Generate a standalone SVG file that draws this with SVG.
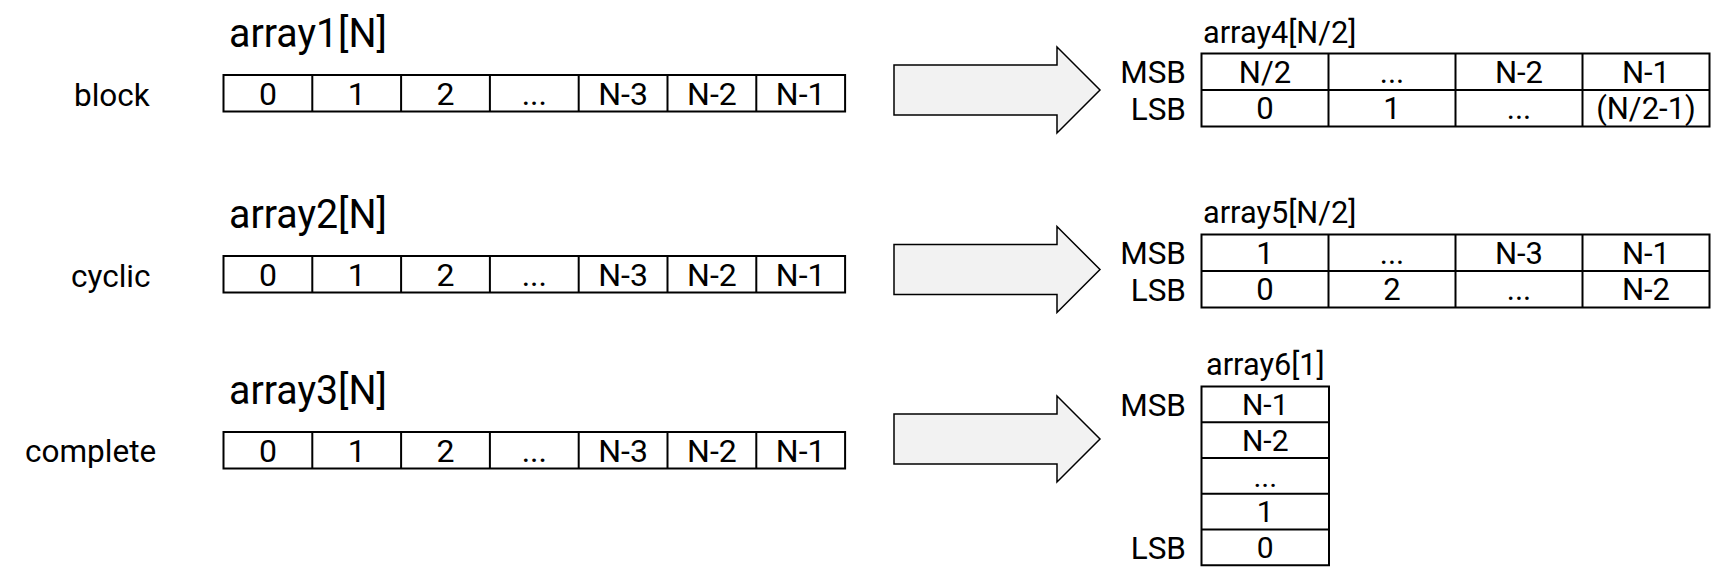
<svg xmlns="http://www.w3.org/2000/svg" width="1735" height="582" viewBox="0 0 1735 582">
<style>
text{font-family:Roboto,"Liberation Sans",sans-serif;fill:#000;transform-box:fill-box}
.t{font-size:41px;transform-origin:left;transform:scaleX(.96)}
.rt{font-size:32px;transform-origin:left;transform:scaleX(.96)}
.lab{font-size:31.5px}
.c{font-size:32px;text-anchor:middle}
.r{font-size:31px;text-anchor:middle}
.r6{font-size:30px;text-anchor:middle}
.m{font-size:31.5px;text-anchor:end}
.box{fill:#fff;stroke:#000;stroke-width:2}
.ln{stroke:#000;stroke-width:2;fill:none}
.arr{fill:#f2f2f2;stroke:#000;stroke-width:1.5}
</style>
<defs>
<g id="rowcells">
<rect class="box" x="0" y="0" width="621.6" height="36.5"/>
<path class="ln" d="M88.8 0V36.5M177.6 0V36.5M266.4 0V36.5M355.2 0V36.5M444 0V36.5M532.8 0V36.5"/>
<text class="c" x="44.4" y="29.6">0</text>
<text class="c" x="133.2" y="29.6">1</text>
<text class="c" x="222" y="29.6">2</text>
<text class="c" x="310.8" y="29.6">...</text>
<text class="c" x="399.6" y="29.6">N-3</text>
<text class="c" x="488.4" y="29.6">N-2</text>
<text class="c" x="577.2" y="29.6">N-1</text>
</g>
<path id="bigarrow" class="arr" d="M894 -25H1057V-43L1100 0L1057 43V25H894Z"/>
</defs>

<g id="label-block"><text class="lab" x="74" y="105.5">block</text></g>
<g id="label-cyclic"><text class="lab" x="71" y="286.5">cyclic</text></g>
<g id="label-complete"><text class="lab" x="25" y="461.5">complete</text></g>

<g id="array1">
<text class="t" x="229" y="47">array1[N]</text>
<use href="#rowcells" x="223.5" y="75"/>
</g>
<g id="array2">
<text class="t" x="229" y="228">array2[N]</text>
<use href="#rowcells" x="223.5" y="256"/>
</g>
<g id="array3">
<text class="t" x="229" y="404">array3[N]</text>
<use href="#rowcells" x="223.5" y="432"/>
</g>

<g id="connectors">
<use href="#bigarrow" x="0" y="90"/>
<use href="#bigarrow" x="0" y="269.5"/>
<use href="#bigarrow" x="0" y="439"/>
</g>

<g id="array4">
<text class="rt" x="1203" y="43">array4[N/2]</text>
<text class="m" x="1186" y="83">MSB</text>
<text class="m" x="1186" y="119.5">LSB</text>
<rect class="box" x="1201.5" y="53.5" width="508" height="73"/>
<path class="ln" d="M1201.5 90H1709.5M1328.5 53.5V126.5M1455.5 53.5V126.5M1582.5 53.5V126.5"/>
<text class="r" x="1265" y="82.8">N/2</text>
<text class="r" x="1392" y="82.8">...</text>
<text class="r" x="1519" y="82.8">N-2</text>
<text class="r" x="1646" y="82.8">N-1</text>
<text class="r" x="1265" y="119.3">0</text>
<text class="r" x="1392" y="119.3">1</text>
<text class="r" x="1519" y="119.3">...</text>
<text class="r" x="1646" y="119.3">(N/2-1)</text>
</g>

<g id="array5">
<text class="rt" x="1203" y="223">array5[N/2]</text>
<text class="m" x="1186" y="264">MSB</text>
<text class="m" x="1186" y="300.5">LSB</text>
<rect class="box" x="1201.5" y="234.5" width="508" height="73"/>
<path class="ln" d="M1201.5 271H1709.5M1328.5 234.5V307.5M1455.5 234.5V307.5M1582.5 234.5V307.5"/>
<text class="r" x="1265" y="263.8">1</text>
<text class="r" x="1392" y="263.8">...</text>
<text class="r" x="1519" y="263.8">N-3</text>
<text class="r" x="1646" y="263.8">N-1</text>
<text class="r" x="1265" y="300.3">0</text>
<text class="r" x="1392" y="300.3">2</text>
<text class="r" x="1519" y="300.3">...</text>
<text class="r" x="1646" y="300.3">N-2</text>
</g>

<g id="array6">
<text class="rt" x="1206" y="375">array6[1]</text>
<text class="m" x="1186" y="415.5">MSB</text>
<text class="m" x="1186" y="558.5">LSB</text>
<rect class="box" x="1201.5" y="386.5" width="127.5" height="178.75"/>
<path class="ln" d="M1201.5 422.25H1329M1201.5 458H1329M1201.5 493.75H1329M1201.5 529.5H1329"/>
<text class="r6" x="1265.25" y="415.1">N-1</text>
<text class="r6" x="1265.25" y="450.9">N-2</text>
<text class="r6" x="1265.25" y="486.6">...</text>
<text class="r6" x="1265.25" y="522.4">1</text>
<text class="r6" x="1265.25" y="558.1">0</text>
</g>
</svg>
